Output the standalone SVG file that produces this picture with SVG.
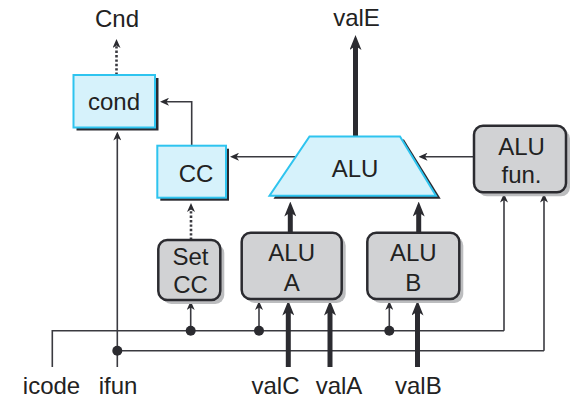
<svg xmlns="http://www.w3.org/2000/svg" width="585" height="418" viewBox="0 0 585 418">
<defs>
<style>
text{font-family:"Liberation Sans",Arial,sans-serif;font-size:24px;fill:#222;text-anchor:middle}
.cy{fill:#d6f2fb;stroke:#2ec4ef;stroke-width:2}
.cysh{fill:#2a2a30}
.gr{fill:#d1d2d4;stroke:#2b2b30;stroke-width:2.5}
.grsh{fill:#bcbdbf}
.thin{fill:none;stroke:#3a3a40;stroke-width:1.6;marker-end:url(#ah)}
.wire{fill:none;stroke:#3a3a40;stroke-width:1.6}
.dot{fill:none;stroke:#3a3a40;stroke-width:2.6;stroke-dasharray:2.4 2;marker-end:url(#ah)}
.thick{fill:none;stroke:#2b2b30;stroke-width:5;marker-end:url(#ahb)}
.jn{fill:#2b2b30}
</style>
<marker id="ah" markerUnits="userSpaceOnUse" viewBox="0 0 9 8" markerWidth="9" markerHeight="8" refX="3" refY="4" orient="auto">
<path d="M0,0 L9,4 L0,8 L2.5,4 z" fill="#2b2b30"/>
</marker>
<marker id="ahb" markerUnits="userSpaceOnUse" viewBox="0 0 15 12" markerWidth="15" markerHeight="12" refX="5" refY="6" orient="auto">
<path d="M0,0 L15,6 L0,12 L4,6 z" fill="#2b2b30"/>
</marker>
</defs>

<g id="connectors">
<path class="dot" d="M116.5,75 V45"/>
<path class="thin" d="M191.7,145.7 V101.7 H166"/>
<path class="thin" d="M296,156.7 H236"/>
<path class="thin" d="M474,156.7 H424.5"/>
<path class="thick" d="M355.5,137 V45"/>
<path class="thick" d="M290.3,232.7 V211.5"/>
<path class="thick" d="M418.7,232.7 V211.5"/>
<path class="dot" d="M191,240 V209"/>
<path class="wire" d="M52.3,367 V330.7 H504"/>
<path class="thin" d="M504,330.7 V199.5"/>
<path class="thin" d="M117.3,367 V137.5"/>
<path class="wire" d="M117.3,350.7 H544"/>
<path class="thin" d="M544,350.7 V199.5"/>
<path class="thin" d="M190.7,330.7 V307"/>
<path class="thin" d="M259,330.7 V307"/>
<path class="thin" d="M389.3,330.7 V307"/>
<path class="thick" d="M288.3,367 V310.5"/>
<path class="thick" d="M330,367 V310.5"/>
<path class="thick" d="M417.5,367 V310.5"/>
<circle class="jn" cx="190.7" cy="330.7" r="5"/>
<circle class="jn" cx="259" cy="330.7" r="5"/>
<circle class="jn" cx="389.3" cy="330.7" r="5"/>
<circle class="jn" cx="117.3" cy="350.7" r="5"/>
</g>

<g id="cond">
<rect class="cysh" x="76.5" y="78" width="82" height="52.5"/>
<rect class="cy" x="73.5" y="75" width="81.5" height="52.5"/>
<text x="114" y="110">cond</text>
</g>

<g id="cc">
<rect class="cysh" x="160.3" y="148.7" width="68.7" height="52"/>
<rect class="cy" x="157.3" y="145.7" width="68.7" height="52"/>
<text x="196" y="182">CC</text>
</g>

<g id="alu">
<polygon class="cysh" points="313.5,139.5 404,139.5 440.7,198.7 273.5,198.7"/>
<polygon class="cy" points="309.5,136.5 400,136.5 436,195.7 269.5,195.7"/>
<text x="355" y="177">ALU</text>
</g>

<g id="alufun">
<rect class="grsh" x="478" y="129.7" width="92" height="66.6" rx="9"/>
<rect class="gr" x="474" y="125.7" width="92" height="66.6" rx="9"/>
<text x="521.5" y="155">ALU</text>
<text x="521.5" y="183.3">fun.</text>
</g>

<g id="setcc">
<rect class="grsh" x="162.3" y="244" width="62" height="60" rx="9"/>
<rect class="gr" x="158.3" y="240" width="62" height="60" rx="9"/>
<text x="190.5" y="265">Set</text>
<text x="190.5" y="293.3">CC</text>
</g>

<g id="alua">
<rect class="grsh" x="245.7" y="236.7" width="100" height="66.3" rx="9"/>
<rect class="gr" x="241.7" y="232.7" width="100" height="66.3" rx="9"/>
<text x="291.7" y="261">ALU</text>
<text x="291.7" y="290.7">A</text>
</g>

<g id="alub">
<rect class="grsh" x="371.3" y="236.7" width="92" height="66.3" rx="9"/>
<rect class="gr" x="367.3" y="232.7" width="92" height="66.3" rx="9"/>
<text x="413.3" y="261">ALU</text>
<text x="413.3" y="290.7">B</text>
</g>

<g id="labels">
<text x="117" y="27">Cnd</text>
<text x="356.5" y="26">valE</text>
<text x="51.5" y="394">icode</text>
<text x="118" y="394">ifun</text>
<text x="275.5" y="394">valC</text>
<text x="339" y="394">valA</text>
<text x="418.3" y="394">valB</text>
</g>
</svg>
